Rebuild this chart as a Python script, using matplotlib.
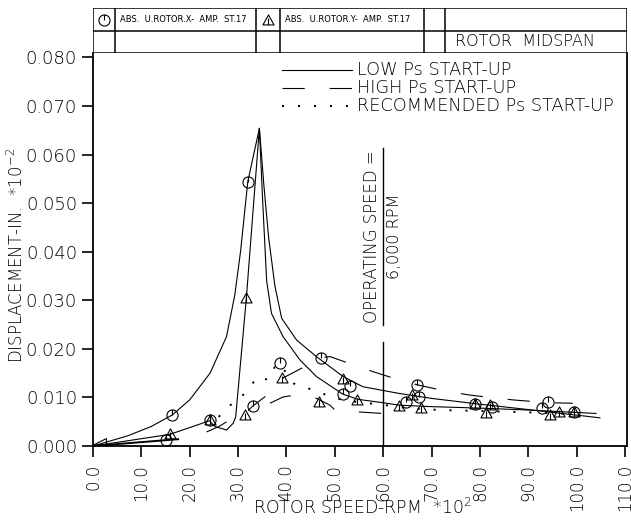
import matplotlib
matplotlib.use('Agg')
import matplotlib.pyplot as plt
from matplotlib.path import Path

plt.rcParams['font.family'] = 'DejaVu Sans'
plt.rcParams['font.weight'] = 'light'
plt.rcParams['lines.scale_dashes'] = False

# ---- data (speed in RPM*10^2, displacement in in.*10^-2)
low_x_rpm = [0, 7.2, 12, 16.4, 20, 24.2, 27.6, 29.3, 30.5, 32, 34.4, 35.3, 36.3, 37.6, 39,
             42.1, 46.2, 51.7, 55.8, 63.4, 70, 80, 90, 97, 104.8]
low_x_amp = [0, .0021, .004, .0064, .0095, .015, .0225, .031, .040, .0544, .0654, .054,
             .043, .033, .0263, .0218, .0184, .0143, .0122, .0108, .0098, .0086, .0075,
             .0067, .0058]

low_y_rpm = [0, 8, 15.9, 24.1, 25.2, 27.6, 29, 29.5, 31.7, 34.4, 35.1, 35.9, 36.9, 39.3,
             42.8, 46.2, 51.6, 54.8, 59.3, 63.4, 70, 80, 90, 104]
low_y_amp = [0, .0012, .0024, .0052, .004, .0033, .0047, .006, .0304, .0654, .050, .034,
             .0273, .0225, .0177, .0143, .0107, .0096, .009, .0084, .0081, .0078, .0074,
             .0067]

start_rpm = [0, 17.6]
start_amp = [0, .0014]

high_x_rpm = [23.5, 26, 29, 31.4, 33, 35.5, 37.5, 39.1, 43.1, 47.2, 49, 53, 57.9, 62, 67,
              73.4, 77.8, 82, 86.7, 91.6, 95, 99.2]
high_x_amp = [.0029, .004, .0058, .0066, .0082, .0101, .012, .0139, .016, .0182, .0184,
              .017, .0153, .014, .0126, .0112, .0105, .01, .0095, .0091, .0089, .0088]

high_y_rpm = [36.6, 39.3, 42.1, 46.2, 49, 50, 55, 60]
high_y_amp = [.0088, .0101, .0105, .0098, .0084, .0074, .0070, .0067]

rec_rpm = [26, 28, 30.7, 31.8, 34.2, 36.2, 37.6, 38.6, 41.4, 43.5, 47, 50, 55, 60, 63, 68,
           72, 80, 88, 96, 100]
rec_amp = [.006, .0081, .0101, .0115, .0143, .0136, .0163, .017, .0129, .0122, .011, .0098,
           .009, .0085, .008, .0076, .0074, .0072, .007, .0067, .0065]

circ_rpm = [15, 16.4, 24.1, 32.0, 33.0, 38.6, 47.2, 51.6, 53.1, 64.8, 67.4, 67.0, 78.9,
            82.4, 92.9, 94.1, 99.5]
circ_amp = [.0012, .0064, .0053, .0544, .0082, .017, .0182, .0107, .0123, .0091, .0101,
            .0126, .0086, .008, .0079, .0091, .0071]

tri_rpm = [15.9, 24.1, 31.4, 31.7, 39.1, 46.8, 51.7, 54.6, 63.3, 65.9, 67.9, 78.9, 81.2,
           82.0, 94.4, 96.3, 99.5]
tri_amp = [.0025, .0053, .0064, .0304, .0139, .0091, .0137, .0095, .0082, .0105, .0078,
           .0086, .0067, .0084, .0064, .0071, .0069]

xticks = [0, 10, 20, 30, 40, 50, 60, 70, 80, 90, 100, 110]
yticks = [0, .01, .02, .03, .04, .05, .06, .07, .08]
op_speed = 60

# probe symbols: circle with a hand, triangle with a bar
circ_mk = Path.make_compound_path(Path.unit_circle(),
                                  Path([(0, 0), (0, 1)], [Path.MOVETO, Path.LINETO]))
tri_mk = Path.make_compound_path(
    Path([(-1, -0.8), (1, -0.8), (0, 1), (-1, -0.8)],
         [Path.MOVETO, Path.LINETO, Path.LINETO, Path.CLOSEPOLY]),
    Path([(0, -0.8), (0, 0.35)], [Path.MOVETO, Path.LINETO]))

fig = plt.figure(figsize=(6.31, 5.21), dpi=100)
ax = fig.add_axes([93/631, 75/521, 534/631, 393/521])

lw = 0.8
dash = (0, (16, 18))
dots = (0, (1.5, 10))
ax.plot(low_x_rpm, low_x_amp, color='k', lw=lw)
ax.plot(low_y_rpm, low_y_amp, color='k', lw=lw)
ax.plot(start_rpm, start_amp, color='k', lw=1.4)
ax.plot(high_x_rpm, high_x_amp, color='k', lw=lw, ls=dash)
ax.plot(high_y_rpm, high_y_amp, color='k', lw=lw, ls=dash)
ax.plot(rec_rpm, rec_amp, color='k', lw=1.4, ls=dots)
mk = dict(ls='none', ms=8, mfc='none', mec='k', mew=0.8)
ax.plot(circ_rpm, circ_amp, marker=circ_mk, **mk)
ax.plot(tri_rpm, tri_amp, marker=tri_mk, **mk)
ax.plot([1.2], [0.0003], marker='<', ls='none', ms=10, mfc='none', mec='k', mew=0.8)

# operating speed marker
ax.plot([op_speed, op_speed], [0, .0214], color='k', lw=1.0)
ax.plot([op_speed, op_speed], [.0249, .0613], color='k', lw=1.0)
ax.text(op_speed - 0.5, .0431, 'OPERATING SPEED =', rotation=90, ha='right', va='center',
        fontsize=12)
ax.text(op_speed + 0.7, .0432, '6,000 RPM', rotation=90, ha='left', va='center', fontsize=11.5)

# legend drawn by hand
legend_rows = [('LOW Ps START-UP', '-', lw), ('HIGH Ps START-UP', dash, lw),
               ('RECOMMENDED Ps START-UP', dots, 1.4)]
for i, (lab, ls, w) in enumerate(legend_rows):
    yy = 0.958 - i * 0.046
    ax.plot([0.354, 0.485], [yy, yy], transform=ax.transAxes, color='k', lw=w, ls=ls)
    ax.text(0.494, yy, lab, transform=ax.transAxes, ha='left', va='center', fontsize=12.8)

ax.set_xlim(0, 110.4)
ax.set_ylim(0, 0.0809)
ax.set_xticks(xticks)
ax.set_xticklabels([f'{v:.1f}' for v in xticks], rotation=90, fontsize=12)
ax.set_yticks(yticks)
ax.set_yticklabels([f'{v:.3f}' for v in yticks], fontsize=13)
ax.tick_params(direction='out', length=8, width=1.2)
ax.tick_params(axis='x', pad=5)
ax.spines['top'].set_visible(False)
for s in ['left', 'bottom', 'right']:
    ax.spines[s].set_linewidth(1.3)

fig.text(17/631, 0.509, 'DISPLACEMENT-IN.  *10$^{-2}$', rotation=90, ha='center',
         va='center', fontsize=12)
fig.text(362/631, 13/521, 'ROTOR SPEED-RPM  *10$^{2}$', ha='center', va='center',
         fontsize=12.5)

# title block on top of the plot
hd = fig.add_axes([93/631, 468/521, 534/631, 45/521])
hd.set_xlim(93, 627)
hd.set_ylim(53, 8)
hd.axis('off')
for xv in [93, 115, 256, 280, 424, 445, 627]:
    hd.plot([xv, xv], [8, 53], color='k', lw=1.1)
for yv in [8, 31, 53]:
    hd.plot([93, 627], [yv, yv], color='k', lw=1.1)
hd.plot([104], [19.5], marker=circ_mk, **mk)
hd.plot([268], [19.5], marker=tri_mk, **mk)
hd.text(120, 19.5, 'ABS.  U.ROTOR.X-  AMP.  ST.17', fontsize=6, va='center', ha='left',
        fontweight='normal')
hd.text(285, 19.5, 'ABS.  U.ROTOR.Y-  AMP.  ST.17', fontsize=6, va='center', ha='left',
        fontweight='normal')
hd.text(525, 42, 'ROTOR  MIDSPAN', fontsize=11.5, va='center', ha='center')

fig.savefig('out.png', dpi=100)
